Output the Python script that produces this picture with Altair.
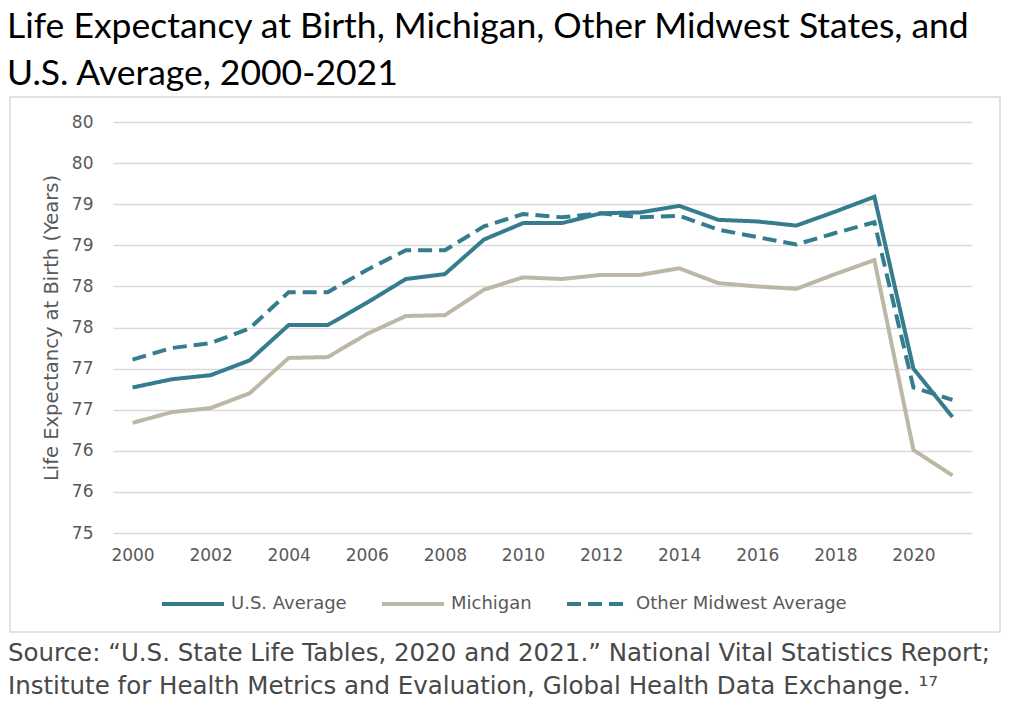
import altair as alt
import pandas as pd

YEARS = list(range(2000, 2022))
US_AVERAGE = [76.77, 76.87, 76.92, 77.10, 77.53, 77.53, 77.80, 78.09, 78.15, 78.57, 78.77,
              78.77, 78.89, 78.90, 78.98, 78.81, 78.79, 78.74, 78.91, 79.09, 77.00, 76.41]
MICHIGAN = [76.34, 76.47, 76.52, 76.70, 77.13, 77.14, 77.42, 77.64, 77.65, 77.96, 78.11,
            78.09, 78.14, 78.14, 78.22, 78.04, 78.00, 77.97, 78.15, 78.32, 76.01, 75.70]
OTHER_MIDWEST = [77.11, 77.25, 77.31, 77.49, 77.93, 77.93, 78.20, 78.44, 78.44, 78.73, 78.88,
                 78.84, 78.89, 78.84, 78.86, 78.69, 78.60, 78.51, 78.65, 78.78, 76.77, 76.62]

SERIES = ["U.S. Average", "Michigan", "Other Midwest Average"]
COLORS = ["#357C8E", "#BDB7A5", "#357C8E"]
DASHES = [[1, 0], [1, 0], [14, 7]]
Y_TICKS = [75 + 0.5 * i for i in range(11)]
X_TICKS = list(range(2000, 2021, 2))

TITLE_LINES = ["Life Expectancy at Birth, Michigan, Other Midwest States, and",
               "U.S. Average, 2000-2021"]
SOURCE_LINES = ["Source: \u201cU.S. State Life Tables, 2020 and 2021.\u201d National Vital Statistics Report;",
                "Institute for Health Metrics and Evaluation, Global Health Data Exchange. \u00b9\u2077"]
Y_TITLE = "Life Expectancy at Birth (Years)"

rows = []
for name, vals in [("Michigan", MICHIGAN), ("U.S. Average", US_AVERAGE),
                   ("Other Midwest Average", OTHER_MIDWEST)]:
    for yr, v in zip(YEARS, vals):
        rows.append({"year": yr, "value": v, "series": name})
df = pd.DataFrame(rows)

legend = alt.Legend(title=None, orient="none", legendX=47, legendY=449,
                    direction="horizontal", symbolType="stroke", symbolSize=3844,
                    symbolStrokeWidth=4, labelFont="DejaVu Sans", labelFontSize=18,
                    labelColor="#595959", labelOffset=5, columnPadding=27, labelLimit=400)

lines = alt.Chart(df).mark_line(strokeWidth=4).encode(
    x=alt.X("year:Q", scale=alt.Scale(domain=[1999.5, 2021.5], nice=False),
            axis=alt.Axis(values=X_TICKS, format="d", title=None, grid=False, domain=False,
                          ticks=False, labelPadding=14, labelFont="DejaVu Sans",
                          labelFontSize=17, labelColor="#595959")),
    y=alt.Y("value:Q", scale=alt.Scale(domain=[75, 80], nice=False, zero=False),
            axis=alt.Axis(values=Y_TICKS, format=".0f", title=Y_TITLE, domain=False,
                          ticks=False, labelPadding=20, labelFont="DejaVu Sans",
                          labelFontSize=17, labelColor="#595959", gridColor="#D9D9D9",
                          gridWidth=1.5, titleFont="DejaVu Sans", titleFontSize=19.5,
                          titleFontWeight="normal", titleColor="#595959", titlePadding=10)),
    color=alt.Color("series:N", scale=alt.Scale(domain=SERIES, range=COLORS), legend=legend),
    strokeDash=alt.StrokeDash("series:N", scale=alt.Scale(domain=SERIES, range=DASHES),
                              legend=legend),
    detail="series:N",
)

one = pd.DataFrame({"k": [0]})
box = alt.Chart(one).mark_rect(fill="transparent", stroke="#D9D9D9", strokeWidth=1.5).encode(
    x=alt.value(-103), x2=alt.value(887), y=alt.value(-25), y2=alt.value(510))

source = alt.Chart(one).mark_text(text=SOURCE_LINES, align="left", baseline="top",
                                  font="DejaVu Sans", fontSize=24.5, lineHeight=33,
                                  color="#484848").encode(
    x=alt.value(-105), y=alt.value(520))

chart = alt.layer(box, lines, source).properties(
    width=859, height=411,
    autosize=alt.AutoSizeParams(type="none"),
    padding={"left": 105, "top": 114, "right": 44, "bottom": 180},
    title=alt.Title(TITLE_LINES, anchor="start", frame="bounds", dx=-1, dy=0, font="Lato",
                    fontSize=35.5, fontWeight="normal", color="#000000", lineHeight=47,
                    offset=4),
).configure_view(stroke=None)

chart.save("out.html", embed_options={"renderer": "svg", "actions": False})
